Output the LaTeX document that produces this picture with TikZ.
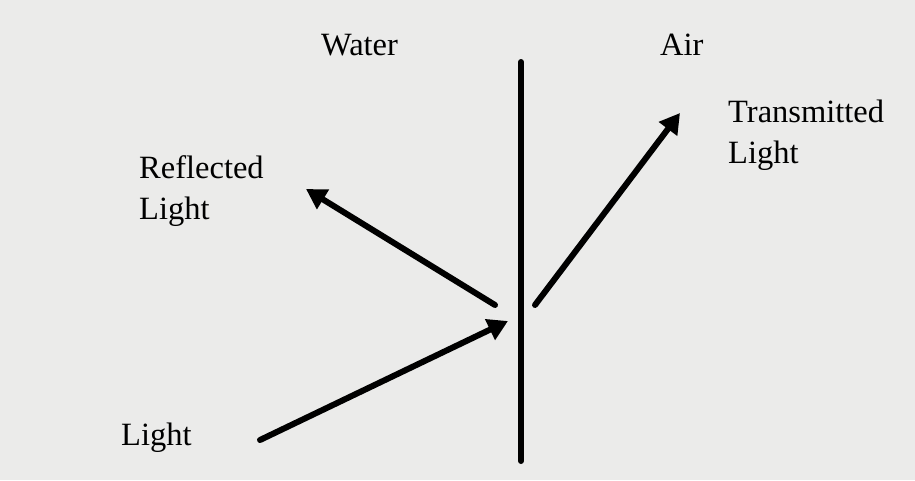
\documentclass[tikz,border=0pt]{standalone}
\usepackage{fontspec}
\setmainfont{Liberation Serif}
\usetikzlibrary{arrows.meta}
\definecolor{paper}{RGB}{235,235,234}
\begin{document}
\begin{tikzpicture}[x=1pt,y=-1pt]
\tikzset{
  label/.style={anchor=base west,inner sep=0pt,font=\fontsize{32.5}{41}\selectfont,align=left},
  ray/.style={draw=black,line width=6pt,line cap=round,-{Triangle[length=20pt,width=22pt]}},
  surface/.style={draw=black,line width=6pt,line cap=round}
}
\fill[paper] (0,0) rectangle (915,480);
\useasboundingbox (0,0) rectangle (915,480);
% boundary between the two media
\coordinate (b_top) at (521,62);
\coordinate (b_bot) at (521,461);
\draw[surface] (b_top) -- (b_bot);
% labels (base = last line)
\node[label] (t_water) at (321,55) {Water};
\node[label] (t_air) at (660,55) {Air};
\node[label] (t_trans) at (728,163) {Transmitted\\Light};
\node[label] (t_refl) at (139,219) {Reflected\\Light};
\node[label] (t_light) at (121,445) {Light};
% ray end points
\coordinate (r_in0) at (260,440);
\coordinate (r_in1) at (508,321);
\coordinate (r_rf0) at (495,305);
\coordinate (r_rf1) at (306,189);
\coordinate (r_tr0) at (535,305);
\coordinate (r_tr1) at (680,113);
\draw[ray] (r_in0) -- (r_in1);
\draw[ray] (r_rf0) -- (r_rf1);
\draw[ray] (r_tr0) -- (r_tr1);
\end{tikzpicture}
\end{document}
